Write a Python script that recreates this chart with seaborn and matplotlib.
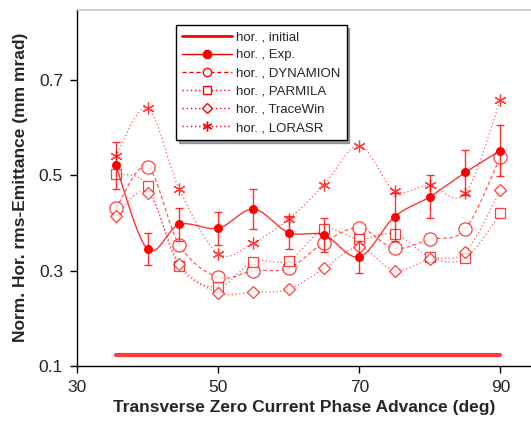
import numpy as np
import pandas as pd
import matplotlib
matplotlib.use("Agg")
import matplotlib.pyplot as plt
from matplotlib.lines import Line2D
import seaborn as sns

# ---- data ----
phase = [35.5, 40, 44.5, 50, 55, 60, 65, 70, 75, 80, 85, 90]
initial_x = [35.5, 90]
initial_y = [0.123, 0.123]
exp_y = [0.521, 0.345, 0.397, 0.389, 0.429, 0.380, 0.375, 0.329, 0.413, 0.455, 0.506, 0.552]
exp_err = [0.050, 0.034, 0.035, 0.035, 0.042, 0.035, 0.035, 0.034, 0.050, 0.045, 0.047, 0.053]
dynamion = [0.431, 0.518, 0.354, 0.286, 0.300, 0.305, 0.359, 0.390, 0.347, 0.366, 0.387, 0.539]
parmila = [0.503, 0.478, 0.309, 0.266, 0.319, 0.321, 0.387, 0.366, 0.377, 0.329, 0.326, 0.420]
tracewin = [0.415, 0.464, 0.315, 0.254, 0.255, 0.261, 0.305, 0.349, 0.300, 0.325, 0.339, 0.469]
lorasr = [0.540, 0.641, 0.471, 0.336, 0.359, 0.408, 0.480, 0.562, 0.468, 0.479, 0.462, 0.659]
xticks = [30, 50, 70, 90]
yticks = [0.1, 0.3, 0.5, 0.7]
labels = ["hor. , initial", "hor. , Exp.", "hor. , DYNAMION", "hor. , PARMILA",
          "hor. , TraceWin", "hor. , LORASR"]

RED = "#ff0000"
W, H = 531, 429
sns.set_theme(style="white")
plt.rcParams['font.family'] = ['Liberation Sans', 'DejaVu Sans']

fig = plt.figure(figsize=(W / 100, H / 100), dpi=100)
ax = fig.add_axes([77 / W, (H - 366) / H, 1 - 77 / W + 0.002, (366 - 9.5) / H])
ax.set_facecolor("white")


def smooth(xs, ys, n=20):
    """Excel-style smoothed curve (cubic Bezier / Catmull-Rom) through the points."""
    P = np.column_stack([xs, ys]).astype(float)
    out = []
    m = len(P)
    for i in range(m - 1):
        p0 = P[i - 1] if i > 0 else P[i]
        p1 = P[i]
        p2 = P[i + 1]
        p3 = P[i + 2] if i + 2 < m else P[i + 1]
        c1 = p1 + (p2 - p0) / 6.0
        c2 = p2 - (p3 - p1) / 6.0
        t = np.linspace(0, 1, n, endpoint=(i == m - 2))[:, None]
        seg = ((1 - t) ** 3) * p1 + 3 * ((1 - t) ** 2) * t * c1 + 3 * (1 - t) * t ** 2 * c2 + t ** 3 * p2
        out.append(seg)
    out = np.vstack(out)
    return pd.DataFrame({"x": out[:, 0], "y": out[:, 1]})


# initial line
sns.lineplot(x=initial_x, y=initial_y, ax=ax, color="#ff3b3b", lw=3, zorder=2)

STAR = (6, 2, 0)
series = [
    (dynamion, "o", 9.5, (0, (3, 2))),
    (parmila, "s", 7, (0, (1, 2))),
    (tracewin, "D", 6.5, (0, (1, 2))),
    (lorasr, STAR, 8.5, (0, (1, 2))),
]
for ys, mk, ms, ls in series:
    s = smooth(phase, ys)
    sns.lineplot(data=s, x="x", y="y", sort=False, ax=ax, color=RED, lw=0.9,
                 linestyle=ls, alpha=0.65, zorder=3)
    ax.plot(phase, ys, linestyle="none", marker=mk, ms=ms,
            mfc="white" if mk != STAR else RED, mec=RED, mew=0.9, alpha=0.75, zorder=4)

# experiment
s = smooth(phase, exp_y)
sns.lineplot(data=s, x="x", y="y", sort=False, ax=ax, color=RED, lw=1.0, alpha=0.8, zorder=5)
ax.errorbar(phase, exp_y, yerr=exp_err, fmt="none", ecolor=RED, elinewidth=1.0,
            capsize=3, capthick=1.0, alpha=0.8, zorder=5)
sns.scatterplot(x=phase, y=exp_y, ax=ax, color=RED, s=42, edgecolor=RED, linewidth=0, zorder=6)

ax.set_xlim(30, 30 + (531 - 77) / 7.04)
ax.set_ylim(0.1, 0.848)
ax.set_xticks(xticks)
ax.set_xticklabels([str(v) for v in xticks])
ax.set_yticks(yticks)
ax.set_yticklabels([f"{v:.1f}" for v in yticks])
ax.tick_params(axis="both", direction="out", length=5, width=1, color="black",
               labelsize=12.5, pad=5, bottom=True, left=True)
for sp in ["left", "bottom"]:
    ax.spines[sp].set_color("black")
    ax.spines[sp].set_linewidth(1)
ax.spines["top"].set_color("#c8c8c8")
ax.spines["top"].set_linewidth(1.2)
ax.spines["right"].set_visible(False)

ax.set_xlabel("Transverse Zero Current Phase Advance (deg)", fontsize=12.5,
              fontweight="bold", labelpad=4)
ax.set_ylabel("Norm. Hor. rms-Emittance (mm mrad)", fontsize=12.5,
              fontweight="bold", labelpad=8)

handles = [
    Line2D([], [], color=RED, lw=2),
    Line2D([], [], color=RED, lw=1, marker="o", ms=6, mfc=RED, mec=RED),
    Line2D([], [], color=RED, lw=1, ls=(0, (3, 2)), marker="o", ms=6, mfc="white", mec=RED),
    Line2D([], [], color=RED, lw=1, ls=(0, (1, 2)), marker="s", ms=6, mfc="white", mec=RED),
    Line2D([], [], color=RED, lw=1, ls=(0, (1, 2)), marker="D", ms=5, mfc="white", mec=RED),
    Line2D([], [], color=RED, lw=1, ls=(0, (1, 2)), marker=STAR, ms=7, mfc=RED, mec=RED),
]
leg = ax.legend(handles, labels, loc="upper left",
                bbox_to_anchor=((176 - 77) / (531 - 77), 1 - (25 - 9.5) / (366 - 9.5)),
                fontsize=9.5, frameon=True, fancybox=False, shadow=True,
                handlelength=3.8, handletextpad=0.3, labelspacing=0.45, borderpad=0.45,
                borderaxespad=0, edgecolor="black")
leg.get_frame().set_linewidth(1)

fig.savefig("out.png", dpi=100)
